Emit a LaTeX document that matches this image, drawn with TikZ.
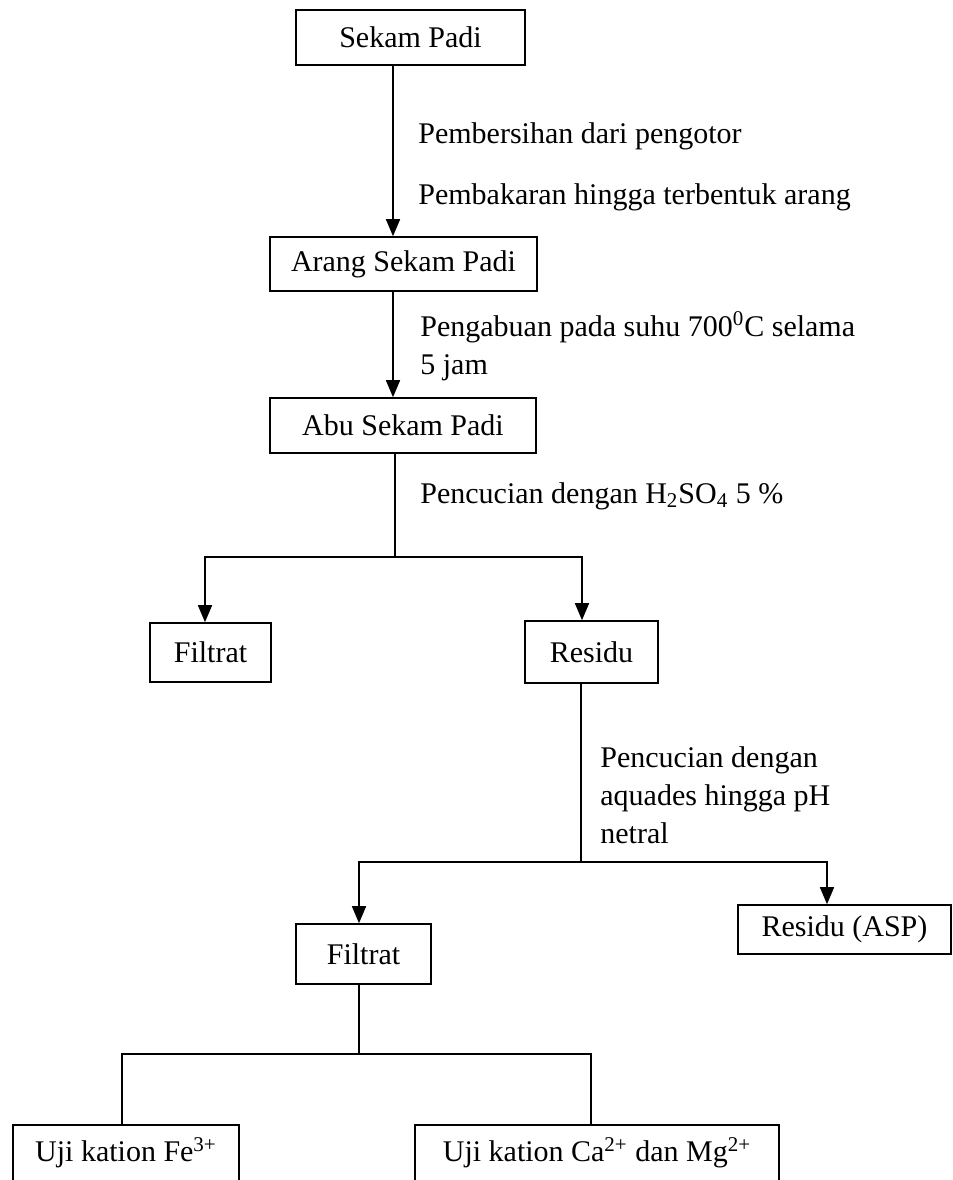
\documentclass[tikz,border=0pt]{standalone}
\usepackage{fontspec}
\setmainfont{Liberation Serif}
\usetikzlibrary{arrows.meta}
\tikzset{
  box/.style={draw, line width=0.8pt, inner sep=0pt, align=center},
  lbl/.style={inner sep=0pt, anchor=west, align=left},
  con/.style={line width=0.8pt},
  arr/.style={con, -{Triangle[length=8.5pt,width=7pt]}},
  every node/.style={font=\fontsize{15}{19}\selectfont}
}
\begin{document}
\begin{tikzpicture}[x=0.5pt,y=-0.5pt]
\useasboundingbox (0,0) rectangle (953,1180);
\fill[white] (0,0) rectangle (953,1180);
\clip (0,0) rectangle (953,1180);

% boxes
\node[box, minimum width=114.5pt, minimum height=27.5pt] (sekam) at (410.5,37.5) {Sekam Padi};
\node[box, minimum width=133.5pt, minimum height=27pt] (arang) at (403.5,264) {Arang Sekam Padi};
\node[box, minimum width=133pt, minimum height=27.5pt] (abu) at (403,425.5) {Abu Sekam Padi};
\node[box, minimum width=60.5pt, minimum height=29.5pt] (fil1) at (210.5,652.5) {Filtrat};
\node[box, minimum width=66.5pt, minimum height=31pt] (res1) at (591.5,652) {Residu};
\node[box, minimum width=67.5pt, minimum height=30pt] (fil2) at (363.5,954) {Filtrat};
\node[box, minimum width=106.5pt, minimum height=24.5pt] (asp) at (844.5,929.5) {Residu (ASP)};
\node[box, minimum width=113pt, minimum height=40pt, anchor=north] (fe) at (126,1124) {};
\node[inner sep=0pt] (fet) at (126,1153) {Uji kation Fe\textsuperscript{3+}};
\node[box, minimum width=182pt, minimum height=40pt, anchor=north] (ca) at (597,1124) {};
\node[inner sep=0pt] (cat) at (597,1153) {Uji kation Ca\textsuperscript{2+} dan Mg\textsuperscript{2+}};

% labels
\node[lbl] (l1) at (418,136) {Pembersihan dari pengotor};
\node[lbl] (l2) at (418,197) {Pembakaran hingga terbentuk arang};
\node[lbl] (l3) at (420,346) {Pengabuan pada suhu 700\textsuperscript{0}C selama\\5 jam};
\node[lbl] (l4) at (420,496) {Pencucian dengan H\textsubscript{2}SO\textsubscript{4} 5 \%};
\node[lbl] (l5) at (600,795) {Pencucian dengan\\aquades hingga pH\\netral};

% guide coordinates
\coordinate (c1) at (393,0);
\coordinate (s1) at (395,557);
\coordinate (f1) at (205,0);
\coordinate (r1) at (582,0);
\coordinate (s2) at (581,862);
\coordinate (f2) at (359,0);
\coordinate (a2) at (827,0);
\coordinate (s3) at (359,1054);
\coordinate (d1) at (122,0);
\coordinate (d2) at (591,0);

% connectors
\draw[arr] (sekam.south -| c1) -- (arang.north -| c1);
\draw[arr] (arang.south -| c1) -- (abu.north -| c1);
\draw[con] (abu.south -| s1) -- (s1);
\draw[arr] (s1) -| (fil1.north -| f1);
\draw[arr] (s1) -| (res1.north -| r1);
\draw[con] (res1.south -| s2) -- (s2);
\draw[arr] (s2) -| (fil2.north -| f2);
\draw[arr] (s2) -| (asp.north -| a2);
\draw[con] (fil2.south -| s3) -- (s3);
\draw[con] (s3) -| (fe.north -| d1);
\draw[con] (s3) -| (ca.north -| d2);
\end{tikzpicture}
\end{document}
